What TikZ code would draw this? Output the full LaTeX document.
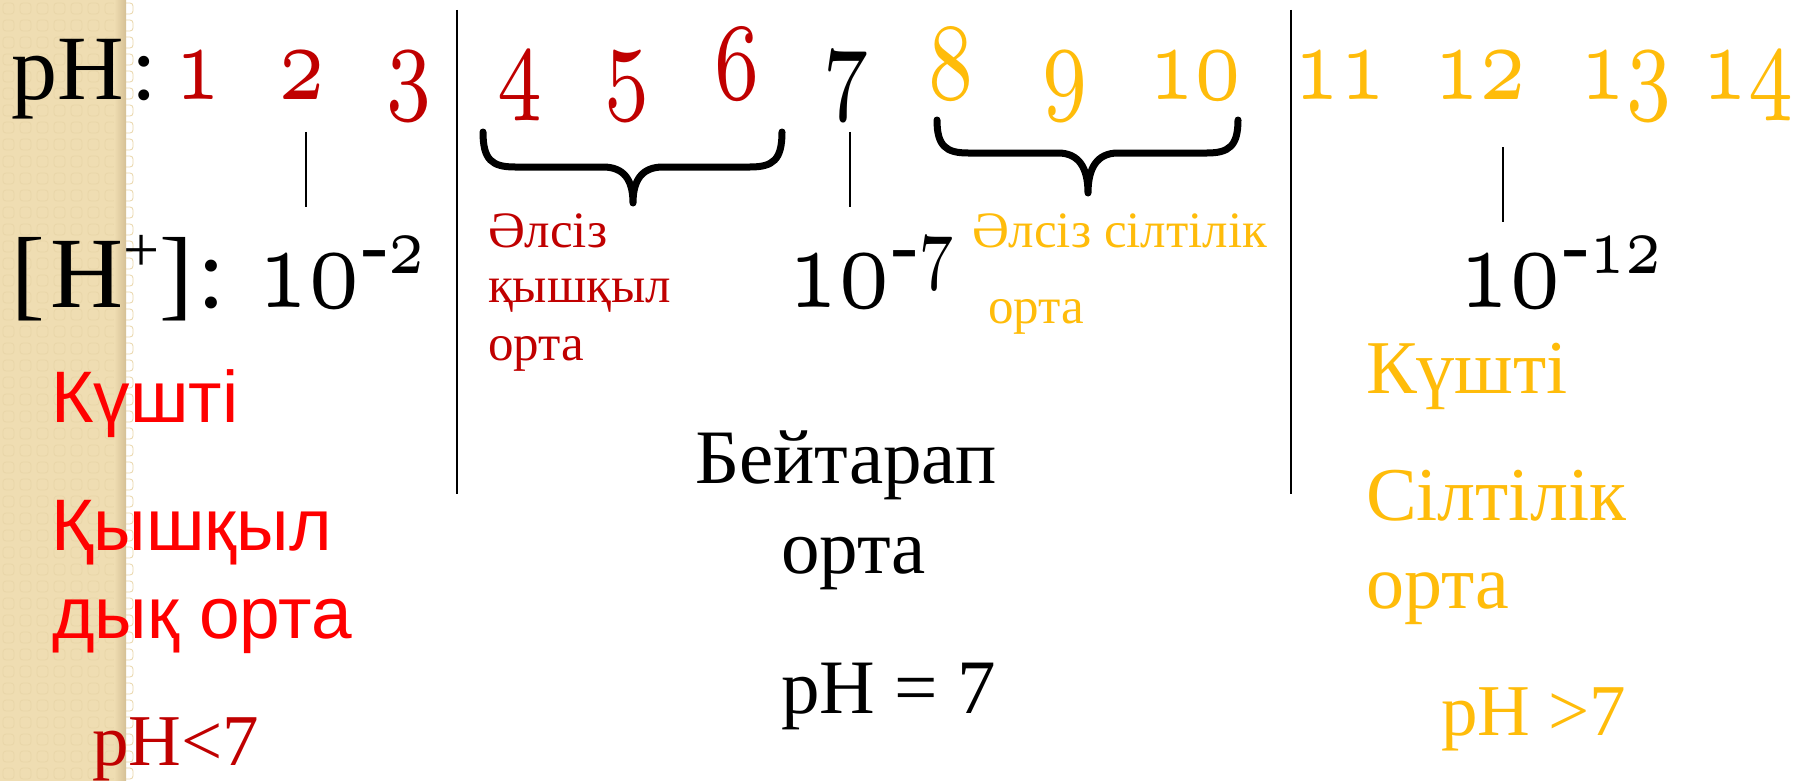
\documentclass[tikz,border=0pt]{standalone}
\usepackage{fontspec}
\usepackage{graphicx}
\setmainfont{Liberation Serif}
\newfontfamily\sansk{Liberation Sans}
% old-style figures taken from the math italic font, scalable to any size
\DeclareFontFamily{OML}{osfd}{\skewchar\font=127 }
\DeclareFontShape{OML}{osfd}{m}{it}{<->cmmi7}{}
\newcommand\fs[1]{\fontsize{#1}{#1}\selectfont}
\newcommand\osf[1]{\scalebox{0.73}[1]{\usefont{OML}{osfd}{m}{it}#1}}
\definecolor{dred}{HTML}{C00000}
\definecolor{bred}{HTML}{FF0000}
\definecolor{gold}{HTML}{FFBC0A}
\definecolor{beige}{HTML}{EFDDB2}
\definecolor{beigeline}{HTML}{E9D6A9}
\definecolor{beigedark}{HTML}{D5C095}
\begin{document}
\begin{tikzpicture}[x=1pt,y=-1pt,
  every node/.style={inner sep=0pt,outer sep=0pt},
  num/.style={anchor=base,font=\fs{110}},
  lbl/.style={anchor=base west},
  sepline/.style={line width=2.5pt,black},
  tick/.style={line width=1.6pt,black},
  brace/.style={line width=7pt,black,line cap=round,line join=round}]
\useasboundingbox (0,0) rectangle (1793,781);
\fill[white] (0,0) rectangle (1793,781);
% textured side strip
\fill[beige] (0,0) rectangle (126,781);
\foreach \i in {0,...,7}{
  \foreach \j in {0,...,46}{
    \draw[beigeline,line width=0.8pt,rounded corners=3pt]
      (\i*17+3,\j*17+3) rectangle ++(11,11);
  }
}
\shade[left color=beige,right color=beigedark] (114,0) rectangle (126,781);

% separators
\draw[sepline] (457,10) -- (457,494);
\draw[sepline] (1291,10) -- (1291,494);

% pH scale
\node[lbl,font=\fs{92}] (phlab) at (12,100) {pH\kern7pt:};
\node[num,text=dred] (n1) at (198,100) {\osf{1}};
\node[num,text=dred] (n2) at (302,100) {\osf{2}};
\node[num,text=dred] (n3) at (409,100) {\osf{3}};
\node[num,text=dred] (n4) at (520,100) {\osf{4}};
\node[num,text=dred] (n5) at (627,100) {\osf{5}};
\node[num,text=dred] (n6) at (737,100) {\osf{6}};
\node[num,text=black] (n7) at (846,100) {\osf{7}};
\node[num,text=gold] (n8) at (951,100) {\osf{8}};
\node[num,text=gold] (n9) at (1065,100) {\osf{9}};
\node[num,text=gold] (n10) at (1195,100) {\osf{10}};
\node[num,text=gold] (n11) at (1340,100) {\osf{11}};
\node[num,text=gold] (n12) at (1480,100) {\osf{12}};
\node[num,text=gold] (n13) at (1626,100) {\osf{13}};
\node[num,text=gold] (n14) at (1748,100) {\osf{14}};

% hydrogen ion concentrations
\node[lbl,font=\fs{101}] (hlab) at (12,307) {[\kern5pt H\raisebox{36pt}{\fs{64}+}]\kern4pt:};
\node[lbl] (c2) at (257,307) {\fs{121}\osf{10}\raisebox{34pt}{\fs{84}-\osf{2}}};
\node[lbl] (c7) at (787,307) {\fs{121}\osf{10}\raisebox{34pt}{\fs{84}-\osf{7}}};
\node[lbl] (c12) at (1458,307) {\fs{121}\osf{10}\raisebox{34pt}{\fs{84}-\osf{12}}};

% ticks between pH and concentration
\coordinate (t2a) at (306,132); \coordinate (t2b) at (306,207);
\coordinate (t7a) at (850,132); \coordinate (t7b) at (850,207);
\coordinate (t12a) at (1503,147); \coordinate (t12b) at (1503,222);
\draw[tick] (t2a) -- (t2b);
\draw[tick] (t7a) -- (t7b);
\draw[tick] (t12a) -- (t12b);

% braces
\draw[brace] (483,132) .. controls (483,160) and (492,167) .. (515,167)
  -- (603,167) .. controls (624,167) and (633,180) .. (633,203)
  .. controls (633,180) and (642,167) .. (663,167)
  -- (750,167) .. controls (773,167) and (782,160) .. (782,132);
\draw[brace] (937,120) .. controls (937,146) and (946,153) .. (968,153)
  -- (1058,153) .. controls (1079,153) and (1088,168) .. (1088,193)
  .. controls (1088,168) and (1097,153) .. (1118,153)
  -- (1207,153) .. controls (1229,153) and (1238,146) .. (1238,120);

% weak acid / weak base labels
\node[lbl,font=\fs{51},text=dred] (wa1) at (488,247) {Әлсіз};
\node[lbl,font=\fs{51},text=dred] (wa2) at (488,302) {қышқыл};
\node[lbl,font=\fs{51},text=dred] (wa3) at (488,360) {орта};
\node[lbl,font=\fs{51},text=gold] (wb1) at (972,247) {Әлсіз сілтілік};
\node[lbl,font=\fs{51},text=gold] (wb2) at (988,323) {орта};

% strong acid
\node[lbl,font={\sansk\fs{73}},text=bred] (sa1) at (51,422) {Күшті};
\node[lbl,font={\sansk\fs{73}},text=bred] (sa2) at (51,550) {Қышқыл};
\node[lbl,font={\sansk\fs{73}},text=bred] (sa3) at (52,638) {дық орта};
\node[lbl,font=\fs{73},text=dred] (sa4) at (92,765) {pH<7};

% neutral
\node[lbl,font=\fs{77}] (ne1) at (695,483) {Бейтарап};
\node[lbl,font=\fs{77}] (ne2) at (781,573) {орта};
\node[lbl,font=\fs{77}] (ne3) at (781,713) {pH = 7};

% strong base
\node[lbl,font=\fs{76},text=gold] (sb1) at (1366,393) {Күшті};
\node[lbl,font=\fs{76},text=gold] (sb2) at (1366,520) {Сілтілік};
\node[lbl,font=\fs{76},text=gold] (sb3) at (1366,608) {орта};
\node[lbl,font=\fs{73},text=gold] (sb4) at (1441,735) {pH >7};
\end{tikzpicture}
\end{document}
